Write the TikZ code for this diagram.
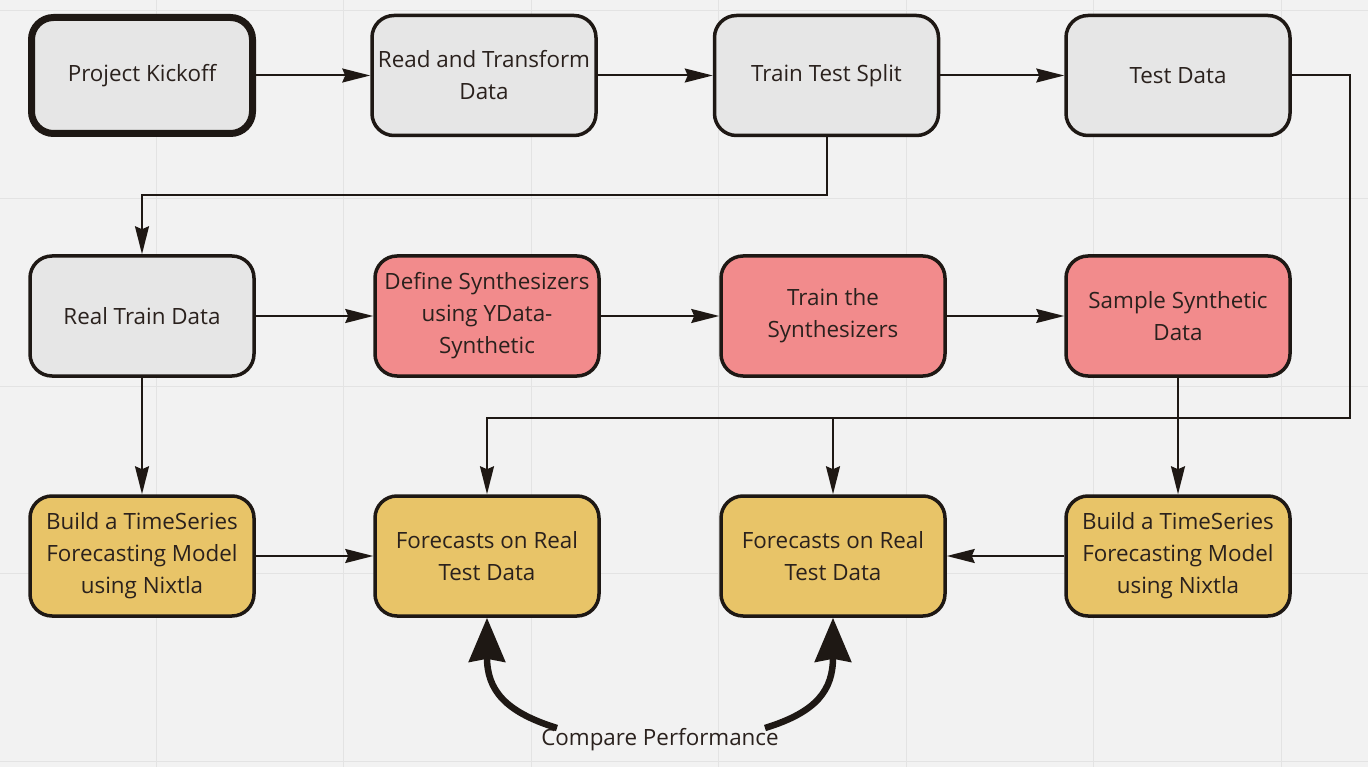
\documentclass[tikz,border=0pt]{standalone}
\usepackage{fontspec}
\setmainfont{Open Sans}
\usetikzlibrary{arrows.meta}
\definecolor{bg}{HTML}{F2F2F2}
\definecolor{gridc}{HTML}{E3E3E3}
\definecolor{ink}{HTML}{1E1814}
\definecolor{txt}{HTML}{2A211D}
\definecolor{greyf}{HTML}{E6E6E6}
\definecolor{redf}{HTML}{F28B8C}
\definecolor{yelf}{HTML}{E8C468}
\tikzset{
  box/.style={draw=ink, line width=3.5pt, rounded corners=22pt, minimum width=224pt,
    minimum height=120pt, align=center, text=txt, inner sep=0pt,
    font=\fontsize{22.4}{32}\selectfont},
  gbox/.style={box, fill=greyf},
  rbox/.style={box, fill=redf},
  ybox/.style={box, fill=yelf},
  conn/.style={draw=ink, line width=2pt, -{Stealth[length=28pt,width=14pt,inset=3pt]}},
  bigarrow/.style={draw=ink, line width=6.5pt, -{Stealth[length=44pt,width=36pt,inset=3pt]}},
}
\begin{document}
\begin{tikzpicture}[x=1pt,y=-1pt]
\fill[bg] (0,0) rectangle (1368,767);
\useasboundingbox (0,0) rectangle (1368,767);
\foreach \gx in {156,343.5,531,718.5,906,1093.5,1281}
  \draw[gridc, line width=1pt] (\gx,0) -- (\gx,767);
\foreach \gy in {11,198.5,386,573.5,761}
  \draw[gridc, line width=1pt] (0,\gy) -- (1368,\gy);

% row 1
\node[gbox, line width=7pt, minimum width=221pt, minimum height=116pt] (kick) at (142,75.5) {Project Kickoff};
\node[gbox] (read) at (484,75.5) {Read and Transform\\Data};
\node[gbox] (tts) at (826.5,75.5) {Train Test Split};
\node[gbox] (test) at (1178,75.5) {Test Data};
% row 2
\node[gbox] (real) at (142,316) {Real Train Data};
\node[rbox] (def) at (487,316) {Define Synthesizers\\using YData-\\Synthetic};
\node[rbox] (trn) at (833,316) {Train the\\Synthesizers};
\node[rbox] (smp) at (1178,316) {Sample Synthetic\\Data};
% row 3
\node[ybox] (bl) at (142,556) {Build a TimeSeries\\Forecasting Model\\using Nixtla};
\node[ybox] (f1) at (487,556) {Forecasts on Real\\Test Data};
\node[ybox] (f2) at (833,556) {Forecasts on Real\\Test Data};
\node[ybox] (br) at (1178,556) {Build a TimeSeries\\Forecasting Model\\using Nixtla};

\node[text=txt, font=\fontsize{22.4}{26}\selectfont, inner sep=0pt] (cmp) at (660,740) {Compare Performance};

% connectors
\draw[conn] (kick.east) -- (read.west);
\draw[conn] (read.east) -- (tts.west);
\draw[conn] (tts.east) -- (test.west);
\coordinate (c1) at (826.5,195);
\coordinate (c2) at (142,195);
\draw[conn] (tts.south) -- (c1) -- (c2) -- (real.north);
\coordinate (t1) at (1350,75.5);
\coordinate (t2) at (1350,418);
\coordinate (t3) at (487,418);
\coordinate (t4) at (833,418);
\draw[conn] (test.east) -- (t1) -- (t2) -- (t3) -- (f1.north);
\draw[conn] (t4) -- (f2.north);
\draw[conn] (real.east) -- (def.west);
\draw[conn] (def.east) -- (trn.west);
\draw[conn] (trn.east) -- (smp.west);
\draw[conn] (smp.south) -- (br.north);
\draw[conn] (real.south) -- (bl.north);
\draw[conn] (bl.east) -- (f1.west);
\draw[conn] (br.west) -- (f2.east);

% compare arrows
\coordinate (a1) at (557,728);
\coordinate (a2) at (765,728);
\draw[bigarrow] (a1) .. controls (505,712) and (487,690) .. (f1.south);
\draw[bigarrow] (a2) .. controls (817,712) and (833,690) .. (f2.south);
\end{tikzpicture}
\end{document}
